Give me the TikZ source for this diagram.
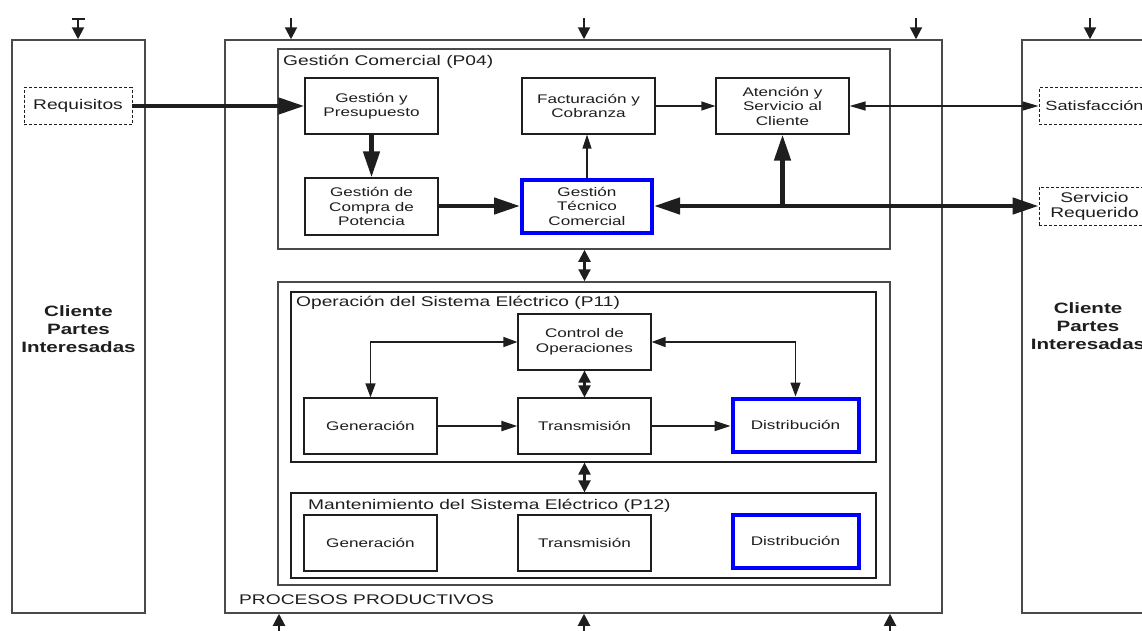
\documentclass[tikz,border=0pt]{standalone}
\usepackage{fontspec}
\setmainfont{Liberation Sans}[FakeStretch=1.37]
\usetikzlibrary{arrows.meta}
\definecolor{ink}{HTML}{1E1E1E}
\definecolor{framegray}{HTML}{4A4A4A}
\definecolor{hiblue}{HTML}{0000FF}

\begin{document}
\begin{tikzpicture}[x=1pt,y=-1pt,
  container/.style={draw=framegray, line width=1.5pt, inner sep=0pt},
  procbox/.style={draw=ink, line width=1.2pt, fill=white, minimum width=133pt,
    minimum height=56pt, align=center, inner sep=2pt, text=ink,
    font=\fontsize{12.5}{14.5}\selectfont},
  hibox/.style={procbox, draw=hiblue, line width=4pt, minimum width=130pt, minimum height=53pt},
  dashbox/.style={draw=ink, dash pattern=on 3pt off 2pt, line width=0.9pt, fill=white,
    minimum width=111pt, minimum height=37pt, align=center, inner sep=2pt, text=ink,
    font=\fontsize{14}{15}\selectfont},
  titletext/.style={anchor=base west, inner sep=0pt, text=ink, font=\fontsize{14}{16}\selectfont},
  clientext/.style={align=center, inner sep=0pt, text=ink, font=\fontsize{15}{18}\selectfont\bfseries},
  thk/.style={line width=4.5pt, draw=ink, -{Triangle[length=26pt,width=16pt]}},
  thkdbl/.style={line width=4.5pt, draw=ink, {Triangle[length=26pt,width=16pt]}-{Triangle[length=26pt,width=16pt]}},
  thn/.style={line width=1.3pt, draw=ink, -{Triangle[length=14pt,width=9pt]}},
  thndbl/.style={line width=1.3pt, draw=ink, {Triangle[length=16pt,width=9pt]}-{Triangle[length=16pt,width=9pt]}},
  flow/.style={line width=2pt, draw=ink, -{Triangle[length=16pt,width=10pt]}},
  flowdbl/.style={line width=1.5pt, draw=ink, {Triangle[length=14pt,width=10pt]}-{Triangle[length=14pt,width=10pt]}},
  linkdbl/.style={line width=2.2pt, draw=ink, {Triangle[length=12pt,width=12pt]}-{Triangle[length=12pt,width=12pt]}},
  io/.style={line width=2pt, draw=ink, -{Triangle[length=12pt,width=12pt]}},
]
\useasboundingbox (0,0) rectangle (1142,630);

% outer frames
\node[container, minimum width=133pt, minimum height=573pt] (lbox) at (78.5,326.5) {};
\node[container, minimum width=717pt, minimum height=573pt] (proc) at (583.5,326.5) {};
\node[container, minimum width=136pt, minimum height=573pt] (rbox) at (1090,326.5) {};
\node[container, minimum width=612pt, minimum height=200pt] (gc) at (584,149) {};
\node[container, minimum width=612pt, minimum height=303pt] (mid) at (584,433.5) {};
\node[container, draw=ink, line width=1.2pt, minimum width=585pt, minimum height=170pt] (p11) at (583.5,377) {};
\node[container, draw=ink, line width=1.2pt, minimum width=585pt, minimum height=85pt] (p12) at (583.5,535.5) {};

% titles
\node[titletext] (tgc) at (283,65) {Gestión Comercial (P04)};
\node[titletext] (tp11) at (296,306) {Operación del Sistema Eléctrico (P11)};
\node[titletext] (tp12) at (308,509) {Mantenimiento del Sistema Eléctrico (P12)};
\node[titletext] (tproc) at (239,604) {PROCESOS PRODUCTIVOS};

\node[clientext] (cl) at (78.5,329) {Cliente\\Partes\\Interesadas};
\node[clientext] (cr) at (1088,326) {Cliente\\Partes\\Interesadas};

% inputs and outputs
\node[dashbox, minimum width=108pt] (req) at (78,106) {Requisitos};
\node[dashbox, font=\fontsize{13.3}{15}\selectfont] (sat) at (1094.5,106) {Satisfacción};
\node[dashbox, minimum height=38pt] (serv) at (1094.5,206) {Servicio\\Requerido};

% Gestión Comercial
\node[procbox] (gyp) at (371.5,106) {Gestión y\\Presupuesto};
\node[procbox] (fyc) at (588.5,106) {Facturación y\\Cobranza};
\node[procbox] (atn) at (782.5,106) {Atención y\\Servicio al\\Cliente};
\node[procbox, minimum height=57pt] (gcp) at (371.5,206.5) {Gestión de\\Compra de\\Potencia};
\node[hibox] (gtc) at (587,206) {Gestión\\Técnico\\Comercial};

% Operación
\node[procbox] (ctl) at (584.5,342) {Control de\\Operaciones};
\node[procbox] (gen1) at (370.5,426) {Generación};
\node[procbox] (tra1) at (584.5,426) {Transmisión};
\node[hibox, minimum width=126pt] (dis1) at (795.5,425) {Distribución};

% Mantenimiento
\node[procbox] (gen2) at (370.5,543) {Generación};
\node[procbox] (tra2) at (584.5,543) {Transmisión};
\node[hibox, minimum width=126pt] (dis2) at (795.5,541) {Distribución};

% connectors, Gestión Comercial
\draw[thk] (req.east) -- (gyp.west);
\draw[thk] (gyp.south) -- (gcp.north);
\draw[thk] (gtc.west -| gcp.east) -- (gtc.west);
\draw[thn] (gtc.north) -- (gtc.north |- fyc.south);
\draw[thn] (fyc.east) -- (atn.west);
\draw[thndbl] (atn.east) -- (sat.west);
\draw[thkdbl] (gtc.east) -- (serv.west);
\draw[thk] (atn.south |- gtc.east) -- (atn.south);

% connectors, Operación
\draw[flowdbl] (ctl.west) -| (gen1.north);
\draw[flowdbl] (ctl.east) -| (dis1.north);
\draw[linkdbl] (ctl.south) -- (tra1.north);
\draw[flow] (gen1.east) -- (tra1.west);
\draw[flow] (tra1.east) -- (tra1.east -| dis1.west);

% links between process groups
\draw[linkdbl] (ctl.north |- gc.south) -- (ctl.north |- mid.north);
\draw[linkdbl] (ctl.north |- p11.south) -- (ctl.north |- p12.north);

% top inputs
\coordinate (t1) at (78,18);
\coordinate (t2) at (291,18);
\coordinate (t3) at (584,18);
\coordinate (t4) at (916,18);
\coordinate (t5) at (1090,18);
\draw[io, {Bar[width=13pt]}-{Triangle[length=12pt,width=12pt]}] (t1) -- (t1 |- lbox.north);
\draw[io] (t2) -- (t2 |- proc.north);
\draw[io] (t3) -- (t3 |- proc.north);
\draw[io] (t4) -- (t4 |- proc.north);
\draw[io] (t5) -- (t5 |- rbox.north);

% bottom inputs
\coordinate (b1) at (279,634);
\coordinate (b2) at (584,634);
\coordinate (b3) at (890,634);
\draw[io] (b1) -- (b1 |- proc.south);
\draw[io] (b2) -- (b2 |- proc.south);
\draw[io] (b3) -- (b3 |- proc.south);
\end{tikzpicture}
\end{document}
